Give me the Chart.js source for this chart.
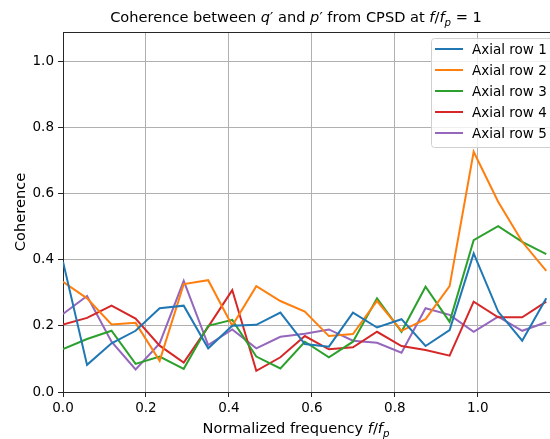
<!DOCTYPE html>
<html>
<head>
<meta charset="utf-8">
<script src="https://cdn.jsdelivr.net/npm/chart.js@4.4.1/dist/chart.umd.min.js"></script>
<style>
  html, body { margin: 0; padding: 0; background: #fff; }
  #wrap { width: 550px; height: 439px; }
</style>
</head>
<body>
<div id="wrap"><canvas id="chart-coherence" width="550" height="439"></canvas></div>
<script>
// normalized frequency f/fp of each CPSD bin
var freq = [0.000, 0.058, 0.117, 0.175, 0.233, 0.291, 0.350, 0.408, 0.466, 0.524,
            0.583, 0.641, 0.699, 0.757, 0.816, 0.874, 0.932, 0.990, 1.049, 1.107, 1.165];

// coherence per axial row
var row1 = [0.394, 0.082, 0.147, 0.185, 0.253, 0.261, 0.132, 0.200, 0.203, 0.240,
            0.145, 0.137, 0.240, 0.195, 0.220, 0.139, 0.187, 0.419, 0.243, 0.155, 0.283];
var row2 = [0.333, 0.283, 0.204, 0.209, 0.094, 0.326, 0.338, 0.200, 0.320, 0.275,
            0.243, 0.169, 0.175, 0.275, 0.185, 0.220, 0.320, 0.726, 0.575, 0.454, 0.366];
var row3 = [0.130, 0.160, 0.185, 0.085, 0.107, 0.070, 0.200, 0.218, 0.107, 0.071,
            0.152, 0.105, 0.152, 0.283, 0.182, 0.318, 0.212, 0.459, 0.501, 0.454, 0.417];
var row4 = [0.204, 0.224, 0.261, 0.222, 0.140, 0.089, 0.197, 0.308, 0.064, 0.105,
            0.169, 0.129, 0.135, 0.182, 0.139, 0.127, 0.110, 0.273, 0.226, 0.226, 0.273];
var row5 = [0.236, 0.290, 0.152, 0.068, 0.147, 0.336, 0.142, 0.189, 0.132, 0.167,
            0.176, 0.189, 0.155, 0.149, 0.119, 0.253, 0.233, 0.182, 0.228, 0.185, 0.211];

var rowNames = ['Axial row 1', 'Axial row 2', 'Axial row 3', 'Axial row 4', 'Axial row 5'];
var rowColors = ['#1f77b4', '#ff7f0e', '#2ca02c', '#d62728', '#9467bd'];
var xTicks = [0, 0.2, 0.4, 0.6, 0.8, 1.0];
var yTicks = [0, 0.2, 0.4, 0.6, 0.8, 1.0];

var FONT = "'DejaVu Sans', sans-serif";

function points(vals) {
    return vals.map(function (v, i) { return { x: freq[i], y: v }; });
}

// text with italic / subscript pieces (math-style labels)
function drawRuns(ctx, runs, cx, baseline, size) {
    var total = 0;
    runs.forEach(function (r) {
        var s = r.sub ? size * 0.7 : size;
        r.font = (r.it ? 'italic ' : '') + s + 'px ' + FONT;
        ctx.font = r.font;
        r.w = ctx.measureText(r.t).width;
        total += r.w;
    });
    var x = cx - total / 2;
    ctx.textAlign = 'left';
    ctx.textBaseline = 'alphabetic';
    runs.forEach(function (r) {
        ctx.font = r.font;
        ctx.fillText(r.t, x, baseline + (r.sub ? size * 0.28 : 0));
        x += r.w;
    });
}

var decorations = {
    id: 'decorations',
    afterDraw: function (chart) {
        var ctx = chart.ctx;
        var area = chart.chartArea;
        ctx.save();

        // top spine
        ctx.strokeStyle = '#262626';
        ctx.lineWidth = 1;
        ctx.beginPath();
        ctx.moveTo(area.left, area.top + 0.5);
        ctx.lineTo(area.right, area.top + 0.5);
        ctx.stroke();

        ctx.fillStyle = '#000';
        drawRuns(ctx, [
            { t: 'Coherence between ' }, { t: 'q', it: true }, { t: '′ and ' },
            { t: 'p', it: true }, { t: '′ from CPSD at ' }, { t: 'f', it: true },
            { t: '/' }, { t: 'f', it: true }, { t: 'p', it: true, sub: true }, { t: ' = 1' }
        ], 296, 22, 14.6);

        drawRuns(ctx, [
            { t: 'Normalized frequency ' }, { t: 'f', it: true }, { t: '/' },
            { t: 'f', it: true }, { t: 'p', it: true, sub: true }
        ], 296, 433, 14.6);

        // legend box
        var lx = 431, ly = 38, lw = 125, lh = 109;
        ctx.fillStyle = 'rgba(255,255,255,0.8)';
        ctx.strokeStyle = '#d0d0d0';
        ctx.lineWidth = 1;
        ctx.beginPath();
        ctx.roundRect(lx + 0.5, ly + 0.5, lw, lh, 3);
        ctx.fill();
        ctx.stroke();

        ctx.font = '13.5px ' + FONT;
        ctx.textBaseline = 'middle';
        ctx.textAlign = 'left';
        rowNames.forEach(function (name, i) {
            var y = 49 + i * 21;
            ctx.strokeStyle = rowColors[i];
            ctx.lineWidth = 2;
            ctx.beginPath();
            ctx.moveTo(435, y);
            ctx.lineTo(463, y);
            ctx.stroke();
            ctx.fillStyle = '#000';
            ctx.fillText(name, 472, y + 1);
        });
        ctx.restore();
    }
};

var config = {
    type: 'line',
    data: {
        datasets: [row1, row2, row3, row4, row5].map(function (vals, i) {
            return {
                label: rowNames[i],
                data: points(vals),
                borderColor: rowColors[i],
                backgroundColor: rowColors[i],
                borderWidth: 2,
                pointRadius: 0,
                fill: false,
                tension: 0
            };
        })
    },
    options: {
        responsive: false,
        animation: false,
        layout: { padding: { top: 32, right: 0, left: 0, bottom: 0 } },
        plugins: {
            legend: { display: false },
            title: { display: false },
            tooltip: { enabled: false }
        },
        scales: {
            x: {
                type: 'linear',
                min: 0,
                max: 1.174,
                afterBuildTicks: function (scale) {
                    scale.ticks = xTicks.map(function (v) { return { value: v }; });
                },
                afterFit: function (scale) { scale.height = 47; },
                ticks: {
                    color: '#000',
                    font: { family: FONT, size: 13.5 },
                    padding: 3,
                    maxRotation: 0,
                    callback: function (v) { return v.toFixed(1); }
                },
                grid: { color: '#b0b0b0', lineWidth: 1, tickLength: 5, tickColor: '#262626' },
                border: { color: '#262626', width: 1 }
            },
            y: {
                min: 0,
                max: 1.088,
                afterBuildTicks: function (scale) {
                    scale.ticks = yTicks.map(function (v) { return { value: v }; });
                },
                afterFit: function (scale) { scale.width = 63; },
                ticks: {
                    color: '#000',
                    font: { family: FONT, size: 13.5 },
                    padding: 4,
                    callback: function (v) { return v.toFixed(1); }
                },
                grid: { color: '#b0b0b0', lineWidth: 1, tickLength: 5, tickColor: '#262626' },
                border: { color: '#262626', width: 1 },
                title: {
                    display: true,
                    text: 'Coherence',
                    color: '#000',
                    font: { family: FONT, size: 14.6 },
                    padding: { top: 12, bottom: 0 }
                }
            }
        }
    },
    plugins: [decorations]
};

var ctx = document.getElementById('chart-coherence').getContext('2d');
new Chart(ctx, config);
</script>
</body>
</html>
